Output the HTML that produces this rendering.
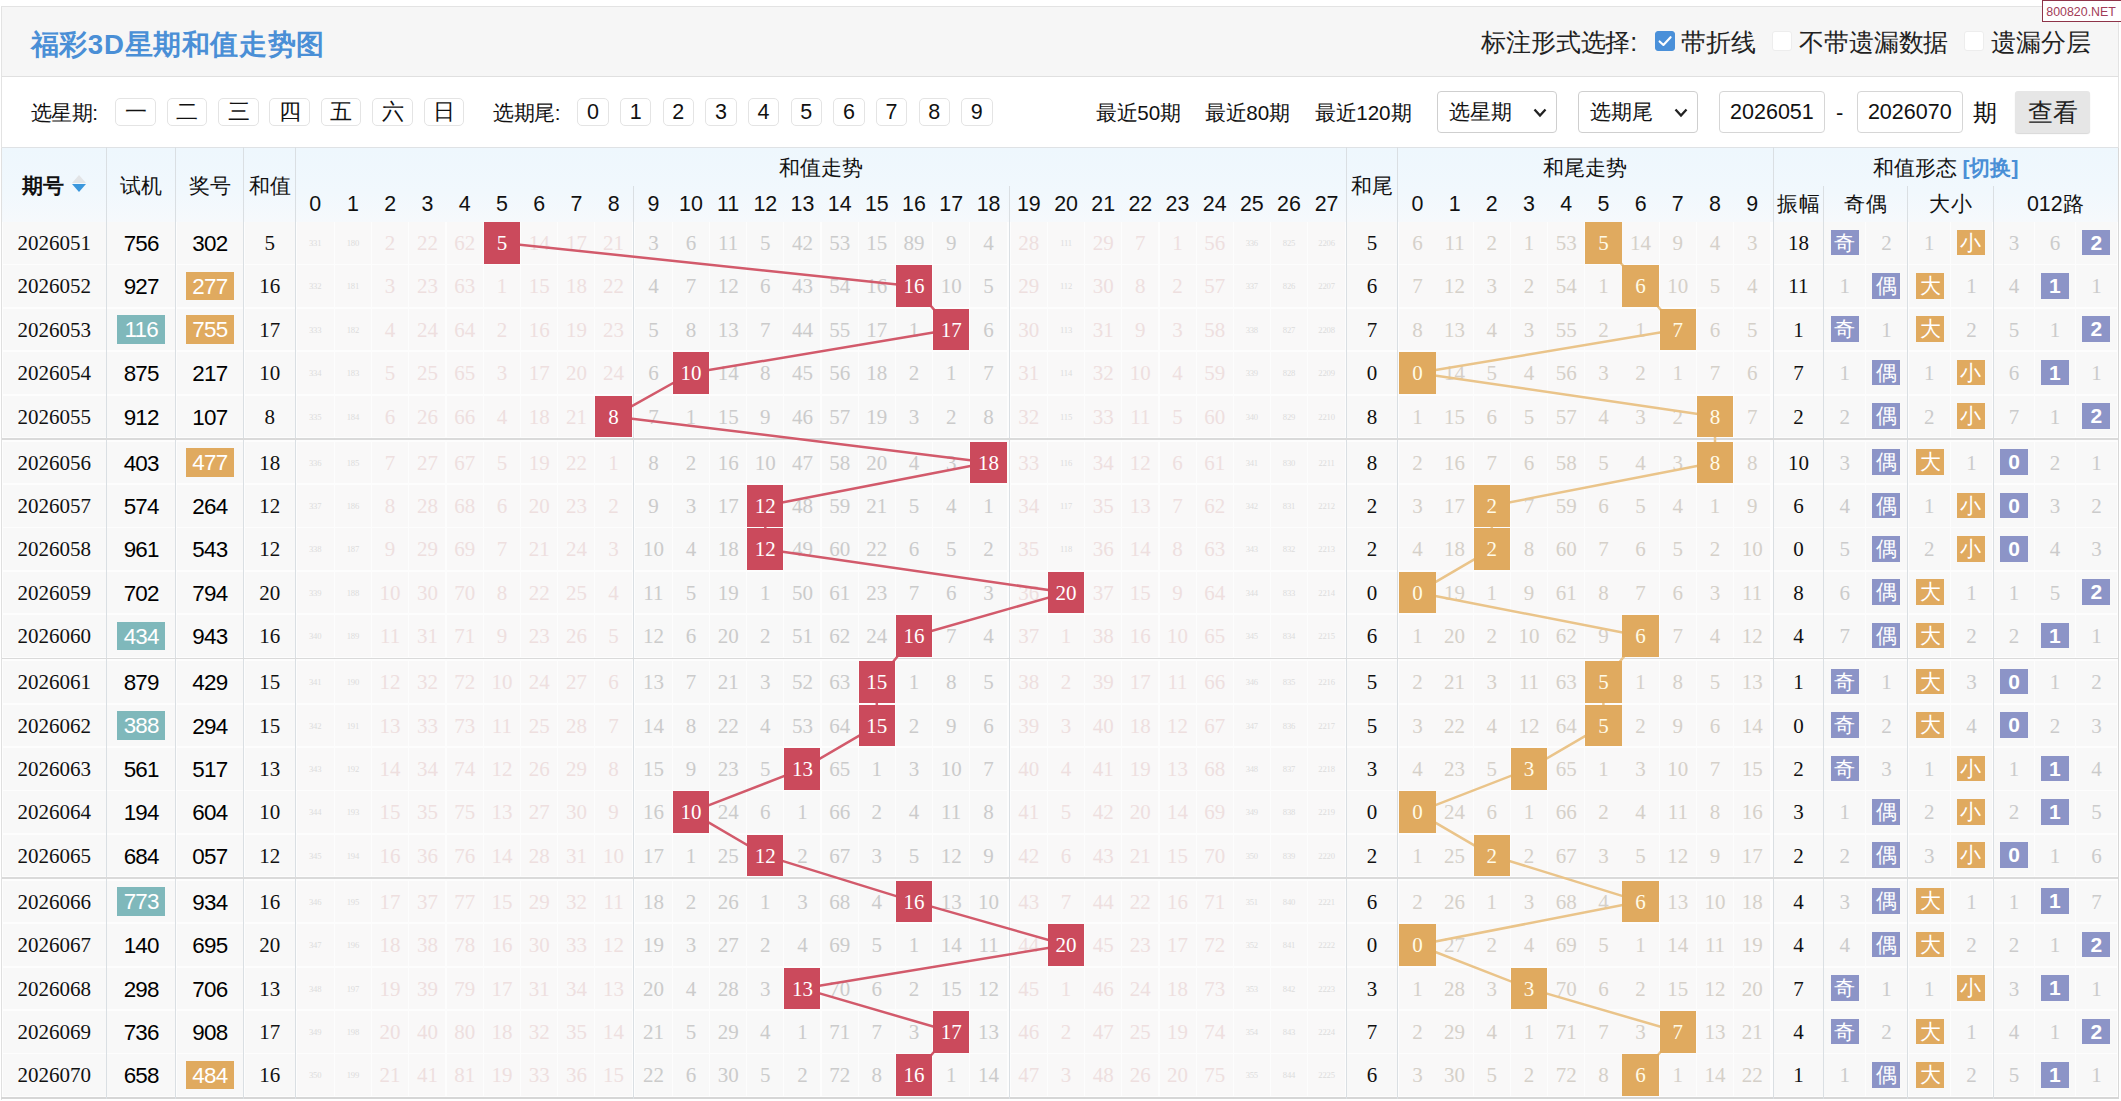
<!DOCTYPE html>
<html lang="zh">
<head>
<meta charset="utf-8">
<title>福彩3D星期和值走势图</title>
<style>
*{box-sizing:border-box;margin:0;padding:0}
html,body{width:2121px;height:1101px;background:#fff;overflow:hidden}
body{font-family:"Liberation Sans",sans-serif;color:#000;position:relative}
#page{position:absolute;left:0;top:0;width:2121px;height:1101px;overflow:hidden}
.z{display:inline-block;width:1em;text-align:center;font-style:normal}
#title .z{width:1.036em}
#titlebar{position:absolute;left:1px;top:6px;width:2118px;height:71px;background:#f6f6f6;border:1.3px solid #e3e3e3;border-bottom:1.3px solid #e0e0e0}
#title{position:absolute;left:30.5px;top:24.6px;font-size:27.6px;line-height:40px;font-weight:bold;color:#4a8fd6;white-space:nowrap;letter-spacing:0.9px}
#opts{position:absolute;top:21.4px;left:0;height:42px;font-size:24.9px;line-height:42px;color:#222;white-space:nowrap}
#opts span{position:absolute;top:0}
.cb{position:absolute;top:31px;width:20px;height:20px;border-radius:3px;background:#fff;border:1px solid #ededed}
.cb.on{background:#4a90d9;border-color:#4a90d9}
#wm{position:absolute;left:2041.6px;top:0;width:80px;height:21.8px;border:1.6px solid #8e3449;background:#fff;color:#a23c58;font-size:12.4px;line-height:22.6px;text-align:center;white-space:nowrap;padding-right:1px}
#filter{position:absolute;left:1px;top:77px;width:2118px;height:71px;background:#fff;border-left:1.3px solid #e3e3e3;border-right:1.3px solid #e3e3e3}
.ft{position:absolute;top:96.8px;height:32px;line-height:32px;font-size:20.6px;color:#111;white-space:nowrap}
.fb{position:absolute;top:98.3px;height:27.3px;border:1.2px solid #e4e4e4;border-radius:5px;background:#fff;text-align:center;font-size:21.5px;line-height:26px;color:#111}
.sel{position:absolute;top:91.4px;height:41.2px;width:119.5px;border:1.3px solid #cfcfcf;border-radius:4px;background:#fff;font-size:21px;line-height:39px;padding-left:11px;color:#111;white-space:nowrap}
.sel svg{position:absolute;right:8px;top:15px}
.inp{position:absolute;top:91.4px;height:41.2px;width:105.5px;border:1.3px solid #d6d6d6;border-radius:4px;background:#fff;font-size:21.5px;line-height:40.5px;text-align:center;color:#111}
#btn{position:absolute;left:2015px;top:91.4px;width:75px;height:41.2px;background:#e6e6e6;border-radius:3px;font-size:24.5px;line-height:44.5px;text-align:center;color:#222;box-shadow:0 1px 1px #d8d8d8}
#chart{position:absolute;left:0;top:0;width:2121px;height:1101px}
#hbg{position:absolute;left:2px;top:147.2px;width:2116px;height:75px;background:linear-gradient(#eef7fd 0%,#f1f8fd 60%,#f6f9fc 100%);border-top:1.3px solid #dfe2e5}
#bbg{position:absolute;left:2px;top:221px;width:2116px;height:878px;background:#fdfdfd}
#hd{position:absolute;left:0;top:148px;width:2121px;height:74px}
.h{position:absolute;text-align:center;font-size:21px;color:#111;white-space:nowrap}
.hn{top:36px;height:38px;line-height:40px;font-size:21.4px}
.hb b{font-size:20.8px}
.sw{color:#4a8fd6}
.sort{display:inline-block;position:relative;width:14px;height:18px;margin-left:8.5px;vertical-align:0.5px}
.sort i{position:absolute;left:0;width:0;height:0;border-left:7.5px solid transparent;border-right:7.5px solid transparent}
.sort .up{top:0;border-bottom:8px solid #e2e4e6}
.sort .dn{top:9.5px;border-top:8px solid #3b97dc}
.row{position:absolute;left:0;width:2121px;height:41.8px}
.c{position:absolute;top:0;height:41.8px;line-height:43.2px;text-align:center;background:#f8f8f8;font-family:"Liberation Serif",serif;font-size:21px;white-space:nowrap;overflow:hidden}
.cp{color:#111}
.n{font-family:"Liberation Sans",sans-serif;font-size:22.4px;color:#000;letter-spacing:-0.8px;line-height:43.8px}
.k{color:#111}
.zp{color:#eedfdf;background:#f9f8f8}
.zg{color:#cbcbcb}
.zt{color:#d5d0c9;background:#f9f8f8}
.tiny{font-size:8.6px;color:#dcdcdc;letter-spacing:-0.2px}
.hr{background:#cb4a5c;color:#fff;z-index:3}
.ho{background:#e0aa5f;color:#fffbe8;z-index:3}
.bd{position:absolute;left:50%;margin-left:-24px;top:6.7px;width:48px;height:28.4px;line-height:30.4px;color:#fff}
.bt{background:#7fb8bb}
.ba{background:#e0aa5f}
.sq{position:absolute;left:50%;margin-left:-14px;top:7.8px;width:28px;height:25.6px;line-height:26.5px;color:#fff;font-family:"Liberation Sans",sans-serif;font-size:21px}
.sb{background:#8c94c7}
.sq.d{font-weight:bold;font-size:21px}
.b0 .sq{margin-left:-13px}
.b1 .sq{margin-left:-15px}
.so{background:#e0aa5f}
.vl{position:absolute;width:1px;background:#dadfe3;z-index:1}
.gl{position:absolute;left:2px;width:2116px;height:1.6px;background:#dadada;z-index:1}
#lines{position:absolute;left:0;top:0;z-index:2;pointer-events:none}
#bl{position:absolute;left:1px;top:148px;width:1.3px;height:952px;background:#e0e0e0}
#br{position:absolute;left:2117.6px;top:148px;width:1.4px;height:951px;background:#d8d8d8}
#bb{position:absolute;left:1px;top:1097.3px;width:2118px;height:1.7px;background:#d6d6d6}
.cp{left:2.60px;width:103.30px}
.ct{left:107.30px;width:67.70px}
.ca{left:176.50px;width:66.70px}
.cs{left:244.60px;width:50.40px}
.s0{left:296.60px;width:37.00px}
.s1{left:334.86px;width:36.00px}
.s2{left:372.12px;width:36.00px}
.s3{left:409.38px;width:36.00px}
.s4{left:446.64px;width:36.00px}
.s5{left:483.90px;width:36.00px}
.s6{left:521.16px;width:36.00px}
.s7{left:558.42px;width:36.00px}
.s8{left:595.20px;width:36.80px}
.s9{left:635.20px;width:36.60px}
.s10{left:672.97px;width:36.00px}
.s11{left:710.14px;width:36.00px}
.s12{left:747.31px;width:36.00px}
.s13{left:784.48px;width:36.00px}
.s14{left:821.65px;width:36.00px}
.s15{left:858.82px;width:36.00px}
.s16{left:895.99px;width:36.00px}
.s17{left:933.16px;width:36.00px}
.s18{left:970.20px;width:36.70px}
.s19{left:1010.80px;width:36.10px}
.s20{left:1048.05px;width:36.00px}
.s21{left:1085.20px;width:36.00px}
.s22{left:1122.35px;width:36.00px}
.s23{left:1159.50px;width:36.00px}
.s24{left:1196.65px;width:36.00px}
.s25{left:1233.80px;width:36.00px}
.s26{left:1270.95px;width:36.00px}
.s27{left:1308.10px;width:36.90px}
.cw{left:1347.30px;width:49.40px}
.t0{left:1399.20px;width:36.40px}
.t1{left:1436.40px;width:36.40px}
.t2{left:1473.60px;width:36.40px}
.t3{left:1510.80px;width:36.40px}
.t4{left:1548.00px;width:36.40px}
.t5{left:1585.20px;width:36.40px}
.t6{left:1622.40px;width:36.40px}
.t7{left:1659.60px;width:36.40px}
.t8{left:1696.80px;width:36.40px}
.t9{left:1734.00px;width:36.40px}
.cm{left:1774.20px;width:48.40px}
.o0{left:1824.40px;width:40.60px}
.o1{left:1866.20px;width:40.60px}
.b0{left:1908.90px;width:40.80px}
.b1{left:1950.90px;width:41.30px}
.r0{left:1994.40px;width:39.30px}
.r1{left:2034.90px;width:40.10px}
.r2{left:2076.20px;width:40.40px}
</style>
</head>
<body>
<div id="page">
<div id="titlebar"></div>
<div id="title"><i class="z">福</i><i class="z">彩</i>3D<i class="z">星</i><i class="z">期</i><i class="z">和</i><i class="z">值</i><i class="z">走</i><i class="z">势</i><i class="z">图</i></div>
<div id="opts">
<span style="left:1481px"><i class="z">标</i><i class="z">注</i><i class="z">形</i><i class="z">式</i><i class="z">选</i><i class="z">择</i>:</span>
<span style="left:1681px"><i class="z">带</i><i class="z">折</i><i class="z">线</i></span>
<span style="left:1799px"><i class="z">不</i><i class="z">带</i><i class="z">遗</i><i class="z">漏</i><i class="z">数</i><i class="z">据</i></span>
<span style="left:1991px"><i class="z">遗</i><i class="z">漏</i><i class="z">分</i><i class="z">层</i></span>
</div>
<div class="cb on" style="left:1654.6px"><svg width="18" height="18" viewBox="0 0 18 18" style="position:absolute;left:0;top:0"><path d="M3.6 9.4 L7.4 13 L14.6 5.2" fill="none" stroke="#fff" stroke-width="2.1" stroke-linecap="round" stroke-linejoin="round"/></svg></div>
<div class="cb" style="left:1772.4px"></div>
<div class="cb" style="left:1964px"></div>
<div id="wm">800820.NET</div>
<div id="filter"></div>
<div class="ft" style="left:30.5px"><i class="z">选</i><i class="z">星</i><i class="z">期</i>:</div>
<div class="fb" style="left:115.2px;width:40.6px"><i class="z">一</i></div>
<div class="fb" style="left:166.6px;width:40.6px"><i class="z">二</i></div>
<div class="fb" style="left:218px;width:40.6px"><i class="z">三</i></div>
<div class="fb" style="left:269.4px;width:40.6px"><i class="z">四</i></div>
<div class="fb" style="left:320.8px;width:40.6px"><i class="z">五</i></div>
<div class="fb" style="left:372.2px;width:40.6px"><i class="z">六</i></div>
<div class="fb" style="left:423.6px;width:40.6px"><i class="z">日</i></div>
<div class="ft" style="left:493px"><i class="z">选</i><i class="z">期</i><i class="z">尾</i>:</div>
<div class="fb" style="left:577.3px;width:31.4px">0</div>
<div class="fb" style="left:619.95px;width:31.4px">1</div>
<div class="fb" style="left:662.6px;width:31.4px">2</div>
<div class="fb" style="left:705.25px;width:31.4px">3</div>
<div class="fb" style="left:747.9px;width:31.4px">4</div>
<div class="fb" style="left:790.55px;width:31.4px">5</div>
<div class="fb" style="left:833.2px;width:31.4px">6</div>
<div class="fb" style="left:875.85px;width:31.4px">7</div>
<div class="fb" style="left:918.5px;width:31.4px">8</div>
<div class="fb" style="left:961.15px;width:31.4px">9</div>
<div class="ft" style="left:1096px"><i class="z">最</i><i class="z">近</i>50<i class="z">期</i></div>
<div class="ft" style="left:1205px"><i class="z">最</i><i class="z">近</i>80<i class="z">期</i></div>
<div class="ft" style="left:1315px"><i class="z">最</i><i class="z">近</i>120<i class="z">期</i></div>
<div class="sel" style="left:1437.4px"><i class="z">选</i><i class="z">星</i><i class="z">期</i><svg width="16" height="12" viewBox="0 0 16 12"><path d="M2.5 2.5 L8 8.5 L13.5 2.5" fill="none" stroke="#222" stroke-width="2.3"/></svg></div>
<div class="sel" style="left:1578px"><i class="z">选</i><i class="z">期</i><i class="z">尾</i><svg width="16" height="12" viewBox="0 0 16 12"><path d="M2.5 2.5 L8 8.5 L13.5 2.5" fill="none" stroke="#222" stroke-width="2.3"/></svg></div>
<div class="inp" style="left:1719.2px">2026051</div>
<div class="ft" style="left:1836px;font-size:22px">-</div>
<div class="inp" style="left:1857px">2026070</div>
<div class="ft" style="left:1973px;font-size:24.4px"><i class="z">期</i></div>
<div id="btn"><i class="z">查</i><i class="z">看</i></div>
<div id="chart">
<div id="bbg"></div>
<div id="hbg"></div>
<div id="hd">
<div class="h cp hb" style="top:0;height:74px;line-height:76px"><b><i class="z">期</i><i class="z">号</i></b><span class="sort"><i class="up"></i><i class="dn"></i></span></div>
<div class="h ct" style="top:0;height:74px;line-height:76px"><i class="z">试</i><i class="z">机</i></div>
<div class="h ca" style="top:0;height:74px;line-height:76px"><i class="z">奖</i><i class="z">号</i></div>
<div class="h cs" style="top:0;height:74px;line-height:76px"><i class="z">和</i><i class="z">值</i></div>
<div class="h" style="left:296px;width:1050px;top:0;height:38px;line-height:40px"><i class="z">和</i><i class="z">值</i><i class="z">走</i><i class="z">势</i></div>
<div class="h s0 hn">0</div>
<div class="h s1 hn">1</div>
<div class="h s2 hn">2</div>
<div class="h s3 hn">3</div>
<div class="h s4 hn">4</div>
<div class="h s5 hn">5</div>
<div class="h s6 hn">6</div>
<div class="h s7 hn">7</div>
<div class="h s8 hn">8</div>
<div class="h s9 hn">9</div>
<div class="h s10 hn">10</div>
<div class="h s11 hn">11</div>
<div class="h s12 hn">12</div>
<div class="h s13 hn">13</div>
<div class="h s14 hn">14</div>
<div class="h s15 hn">15</div>
<div class="h s16 hn">16</div>
<div class="h s17 hn">17</div>
<div class="h s18 hn">18</div>
<div class="h s19 hn">19</div>
<div class="h s20 hn">20</div>
<div class="h s21 hn">21</div>
<div class="h s22 hn">22</div>
<div class="h s23 hn">23</div>
<div class="h s24 hn">24</div>
<div class="h s25 hn">25</div>
<div class="h s26 hn">26</div>
<div class="h s27 hn">27</div>
<div class="h cw" style="top:0;height:74px;line-height:76px"><i class="z">和</i><i class="z">尾</i></div>
<div class="h" style="left:1398px;width:374px;top:0;height:38px;line-height:40px"><i class="z">和</i><i class="z">尾</i><i class="z">走</i><i class="z">势</i></div>
<div class="h t0 hn">0</div>
<div class="h t1 hn">1</div>
<div class="h t2 hn">2</div>
<div class="h t3 hn">3</div>
<div class="h t4 hn">4</div>
<div class="h t5 hn">5</div>
<div class="h t6 hn">6</div>
<div class="h t7 hn">7</div>
<div class="h t8 hn">8</div>
<div class="h t9 hn">9</div>
<div class="h" style="left:1774px;width:343px;top:0;height:38px;line-height:40px"><i class="z">和</i><i class="z">值</i><i class="z">形</i><i class="z">态</i> <b class="sw">[<i class="z">切</i><i class="z">换</i>]</b></div>
<div class="h cm hn"><i class="z">振</i><i class="z">幅</i></div>
<div class="h hn" style="left:1824.4px;width:82.4px"><i class="z">奇</i><i class="z">偶</i></div>
<div class="h hn" style="left:1908.9px;width:83.3px"><i class="z">大</i><i class="z">小</i></div>
<div class="h hn" style="left:1994.4px;width:122.2px">012<i class="z">路</i></div>
</div>
<div class="row" style="top:221.9px"><div class="c cp">2026051</div><div class="c ct n">756</div><div class="c ca n">302</div><div class="c cs k">5</div><div class="c s0 zp tiny">331</div><div class="c s1 zp tiny">180</div><div class="c s2 zp">2</div><div class="c s3 zp">22</div><div class="c s4 zp">62</div><div class="c s5 hr">5</div><div class="c s6 zp">14</div><div class="c s7 zp">17</div><div class="c s8 zp">21</div><div class="c s9 zg">3</div><div class="c s10 zg">6</div><div class="c s11 zg">11</div><div class="c s12 zg">5</div><div class="c s13 zg">42</div><div class="c s14 zg">53</div><div class="c s15 zg">15</div><div class="c s16 zg">89</div><div class="c s17 zg">9</div><div class="c s18 zg">4</div><div class="c s19 zp">28</div><div class="c s20 zp tiny">111</div><div class="c s21 zp">29</div><div class="c s22 zp">7</div><div class="c s23 zp">1</div><div class="c s24 zp">56</div><div class="c s25 zp tiny">336</div><div class="c s26 zp tiny">825</div><div class="c s27 zp tiny">2206</div><div class="c cw k">5</div><div class="c t0 zt">6</div><div class="c t1 zt">11</div><div class="c t2 zt">2</div><div class="c t3 zt">1</div><div class="c t4 zt">53</div><div class="c t5 ho">5</div><div class="c t6 zt">14</div><div class="c t7 zt">9</div><div class="c t8 zt">4</div><div class="c t9 zt">3</div><div class="c cm k">18</div><div class="c o0"><span class="sq sb"><i class="z">奇</i></span></div><div class="c o1 zg">2</div><div class="c b0 zg">1</div><div class="c b1"><span class="sq so"><i class="z">小</i></span></div><div class="c r0 zg">3</div><div class="c r1 zg">6</div><div class="c r2"><span class="sq sb d">2</span></div></div>
<div class="row" style="top:265.3px"><div class="c cp">2026052</div><div class="c ct n">927</div><div class="c ca n"><span class="bd ba">277</span></div><div class="c cs k">16</div><div class="c s0 zp tiny">332</div><div class="c s1 zp tiny">181</div><div class="c s2 zp">3</div><div class="c s3 zp">23</div><div class="c s4 zp">63</div><div class="c s5 zp">1</div><div class="c s6 zp">15</div><div class="c s7 zp">18</div><div class="c s8 zp">22</div><div class="c s9 zg">4</div><div class="c s10 zg">7</div><div class="c s11 zg">12</div><div class="c s12 zg">6</div><div class="c s13 zg">43</div><div class="c s14 zg">54</div><div class="c s15 zg">16</div><div class="c s16 hr">16</div><div class="c s17 zg">10</div><div class="c s18 zg">5</div><div class="c s19 zp">29</div><div class="c s20 zp tiny">112</div><div class="c s21 zp">30</div><div class="c s22 zp">8</div><div class="c s23 zp">2</div><div class="c s24 zp">57</div><div class="c s25 zp tiny">337</div><div class="c s26 zp tiny">826</div><div class="c s27 zp tiny">2207</div><div class="c cw k">6</div><div class="c t0 zt">7</div><div class="c t1 zt">12</div><div class="c t2 zt">3</div><div class="c t3 zt">2</div><div class="c t4 zt">54</div><div class="c t5 zt">1</div><div class="c t6 ho">6</div><div class="c t7 zt">10</div><div class="c t8 zt">5</div><div class="c t9 zt">4</div><div class="c cm k">11</div><div class="c o0 zg">1</div><div class="c o1"><span class="sq sb"><i class="z">偶</i></span></div><div class="c b0"><span class="sq so"><i class="z">大</i></span></div><div class="c b1 zg">1</div><div class="c r0 zg">4</div><div class="c r1"><span class="sq sb d">1</span></div><div class="c r2 zg">1</div></div>
<div class="row" style="top:308.7px"><div class="c cp">2026053</div><div class="c ct n"><span class="bd bt">116</span></div><div class="c ca n"><span class="bd ba">755</span></div><div class="c cs k">17</div><div class="c s0 zp tiny">333</div><div class="c s1 zp tiny">182</div><div class="c s2 zp">4</div><div class="c s3 zp">24</div><div class="c s4 zp">64</div><div class="c s5 zp">2</div><div class="c s6 zp">16</div><div class="c s7 zp">19</div><div class="c s8 zp">23</div><div class="c s9 zg">5</div><div class="c s10 zg">8</div><div class="c s11 zg">13</div><div class="c s12 zg">7</div><div class="c s13 zg">44</div><div class="c s14 zg">55</div><div class="c s15 zg">17</div><div class="c s16 zg">1</div><div class="c s17 hr">17</div><div class="c s18 zg">6</div><div class="c s19 zp">30</div><div class="c s20 zp tiny">113</div><div class="c s21 zp">31</div><div class="c s22 zp">9</div><div class="c s23 zp">3</div><div class="c s24 zp">58</div><div class="c s25 zp tiny">338</div><div class="c s26 zp tiny">827</div><div class="c s27 zp tiny">2208</div><div class="c cw k">7</div><div class="c t0 zt">8</div><div class="c t1 zt">13</div><div class="c t2 zt">4</div><div class="c t3 zt">3</div><div class="c t4 zt">55</div><div class="c t5 zt">2</div><div class="c t6 zt">1</div><div class="c t7 ho">7</div><div class="c t8 zt">6</div><div class="c t9 zt">5</div><div class="c cm k">1</div><div class="c o0"><span class="sq sb"><i class="z">奇</i></span></div><div class="c o1 zg">1</div><div class="c b0"><span class="sq so"><i class="z">大</i></span></div><div class="c b1 zg">2</div><div class="c r0 zg">5</div><div class="c r1 zg">1</div><div class="c r2"><span class="sq sb d">2</span></div></div>
<div class="row" style="top:352.1px"><div class="c cp">2026054</div><div class="c ct n">875</div><div class="c ca n">217</div><div class="c cs k">10</div><div class="c s0 zp tiny">334</div><div class="c s1 zp tiny">183</div><div class="c s2 zp">5</div><div class="c s3 zp">25</div><div class="c s4 zp">65</div><div class="c s5 zp">3</div><div class="c s6 zp">17</div><div class="c s7 zp">20</div><div class="c s8 zp">24</div><div class="c s9 zg">6</div><div class="c s10 hr">10</div><div class="c s11 zg">14</div><div class="c s12 zg">8</div><div class="c s13 zg">45</div><div class="c s14 zg">56</div><div class="c s15 zg">18</div><div class="c s16 zg">2</div><div class="c s17 zg">1</div><div class="c s18 zg">7</div><div class="c s19 zp">31</div><div class="c s20 zp tiny">114</div><div class="c s21 zp">32</div><div class="c s22 zp">10</div><div class="c s23 zp">4</div><div class="c s24 zp">59</div><div class="c s25 zp tiny">339</div><div class="c s26 zp tiny">828</div><div class="c s27 zp tiny">2209</div><div class="c cw k">0</div><div class="c t0 ho">0</div><div class="c t1 zt">14</div><div class="c t2 zt">5</div><div class="c t3 zt">4</div><div class="c t4 zt">56</div><div class="c t5 zt">3</div><div class="c t6 zt">2</div><div class="c t7 zt">1</div><div class="c t8 zt">7</div><div class="c t9 zt">6</div><div class="c cm k">7</div><div class="c o0 zg">1</div><div class="c o1"><span class="sq sb"><i class="z">偶</i></span></div><div class="c b0 zg">1</div><div class="c b1"><span class="sq so"><i class="z">小</i></span></div><div class="c r0 zg">6</div><div class="c r1"><span class="sq sb d">1</span></div><div class="c r2 zg">1</div></div>
<div class="row" style="top:395.5px"><div class="c cp">2026055</div><div class="c ct n">912</div><div class="c ca n">107</div><div class="c cs k">8</div><div class="c s0 zp tiny">335</div><div class="c s1 zp tiny">184</div><div class="c s2 zp">6</div><div class="c s3 zp">26</div><div class="c s4 zp">66</div><div class="c s5 zp">4</div><div class="c s6 zp">18</div><div class="c s7 zp">21</div><div class="c s8 hr">8</div><div class="c s9 zg">7</div><div class="c s10 zg">1</div><div class="c s11 zg">15</div><div class="c s12 zg">9</div><div class="c s13 zg">46</div><div class="c s14 zg">57</div><div class="c s15 zg">19</div><div class="c s16 zg">3</div><div class="c s17 zg">2</div><div class="c s18 zg">8</div><div class="c s19 zp">32</div><div class="c s20 zp tiny">115</div><div class="c s21 zp">33</div><div class="c s22 zp">11</div><div class="c s23 zp">5</div><div class="c s24 zp">60</div><div class="c s25 zp tiny">340</div><div class="c s26 zp tiny">829</div><div class="c s27 zp tiny">2210</div><div class="c cw k">8</div><div class="c t0 zt">1</div><div class="c t1 zt">15</div><div class="c t2 zt">6</div><div class="c t3 zt">5</div><div class="c t4 zt">57</div><div class="c t5 zt">4</div><div class="c t6 zt">3</div><div class="c t7 zt">2</div><div class="c t8 ho">8</div><div class="c t9 zt">7</div><div class="c cm k">2</div><div class="c o0 zg">2</div><div class="c o1"><span class="sq sb"><i class="z">偶</i></span></div><div class="c b0 zg">2</div><div class="c b1"><span class="sq so"><i class="z">小</i></span></div><div class="c r0 zg">7</div><div class="c r1 zg">1</div><div class="c r2"><span class="sq sb d">2</span></div></div>
<div class="row" style="top:441.5px"><div class="c cp">2026056</div><div class="c ct n">403</div><div class="c ca n"><span class="bd ba">477</span></div><div class="c cs k">18</div><div class="c s0 zp tiny">336</div><div class="c s1 zp tiny">185</div><div class="c s2 zp">7</div><div class="c s3 zp">27</div><div class="c s4 zp">67</div><div class="c s5 zp">5</div><div class="c s6 zp">19</div><div class="c s7 zp">22</div><div class="c s8 zp">1</div><div class="c s9 zg">8</div><div class="c s10 zg">2</div><div class="c s11 zg">16</div><div class="c s12 zg">10</div><div class="c s13 zg">47</div><div class="c s14 zg">58</div><div class="c s15 zg">20</div><div class="c s16 zg">4</div><div class="c s17 zg">3</div><div class="c s18 hr">18</div><div class="c s19 zp">33</div><div class="c s20 zp tiny">116</div><div class="c s21 zp">34</div><div class="c s22 zp">12</div><div class="c s23 zp">6</div><div class="c s24 zp">61</div><div class="c s25 zp tiny">341</div><div class="c s26 zp tiny">830</div><div class="c s27 zp tiny">2211</div><div class="c cw k">8</div><div class="c t0 zt">2</div><div class="c t1 zt">16</div><div class="c t2 zt">7</div><div class="c t3 zt">6</div><div class="c t4 zt">58</div><div class="c t5 zt">5</div><div class="c t6 zt">4</div><div class="c t7 zt">3</div><div class="c t8 ho">8</div><div class="c t9 zt">8</div><div class="c cm k">10</div><div class="c o0 zg">3</div><div class="c o1"><span class="sq sb"><i class="z">偶</i></span></div><div class="c b0"><span class="sq so"><i class="z">大</i></span></div><div class="c b1 zg">1</div><div class="c r0"><span class="sq sb d">0</span></div><div class="c r1 zg">2</div><div class="c r2 zg">1</div></div>
<div class="row" style="top:484.9px"><div class="c cp">2026057</div><div class="c ct n">574</div><div class="c ca n">264</div><div class="c cs k">12</div><div class="c s0 zp tiny">337</div><div class="c s1 zp tiny">186</div><div class="c s2 zp">8</div><div class="c s3 zp">28</div><div class="c s4 zp">68</div><div class="c s5 zp">6</div><div class="c s6 zp">20</div><div class="c s7 zp">23</div><div class="c s8 zp">2</div><div class="c s9 zg">9</div><div class="c s10 zg">3</div><div class="c s11 zg">17</div><div class="c s12 hr">12</div><div class="c s13 zg">48</div><div class="c s14 zg">59</div><div class="c s15 zg">21</div><div class="c s16 zg">5</div><div class="c s17 zg">4</div><div class="c s18 zg">1</div><div class="c s19 zp">34</div><div class="c s20 zp tiny">117</div><div class="c s21 zp">35</div><div class="c s22 zp">13</div><div class="c s23 zp">7</div><div class="c s24 zp">62</div><div class="c s25 zp tiny">342</div><div class="c s26 zp tiny">831</div><div class="c s27 zp tiny">2212</div><div class="c cw k">2</div><div class="c t0 zt">3</div><div class="c t1 zt">17</div><div class="c t2 ho">2</div><div class="c t3 zt">7</div><div class="c t4 zt">59</div><div class="c t5 zt">6</div><div class="c t6 zt">5</div><div class="c t7 zt">4</div><div class="c t8 zt">1</div><div class="c t9 zt">9</div><div class="c cm k">6</div><div class="c o0 zg">4</div><div class="c o1"><span class="sq sb"><i class="z">偶</i></span></div><div class="c b0 zg">1</div><div class="c b1"><span class="sq so"><i class="z">小</i></span></div><div class="c r0"><span class="sq sb d">0</span></div><div class="c r1 zg">3</div><div class="c r2 zg">2</div></div>
<div class="row" style="top:528.3px"><div class="c cp">2026058</div><div class="c ct n">961</div><div class="c ca n">543</div><div class="c cs k">12</div><div class="c s0 zp tiny">338</div><div class="c s1 zp tiny">187</div><div class="c s2 zp">9</div><div class="c s3 zp">29</div><div class="c s4 zp">69</div><div class="c s5 zp">7</div><div class="c s6 zp">21</div><div class="c s7 zp">24</div><div class="c s8 zp">3</div><div class="c s9 zg">10</div><div class="c s10 zg">4</div><div class="c s11 zg">18</div><div class="c s12 hr">12</div><div class="c s13 zg">49</div><div class="c s14 zg">60</div><div class="c s15 zg">22</div><div class="c s16 zg">6</div><div class="c s17 zg">5</div><div class="c s18 zg">2</div><div class="c s19 zp">35</div><div class="c s20 zp tiny">118</div><div class="c s21 zp">36</div><div class="c s22 zp">14</div><div class="c s23 zp">8</div><div class="c s24 zp">63</div><div class="c s25 zp tiny">343</div><div class="c s26 zp tiny">832</div><div class="c s27 zp tiny">2213</div><div class="c cw k">2</div><div class="c t0 zt">4</div><div class="c t1 zt">18</div><div class="c t2 ho">2</div><div class="c t3 zt">8</div><div class="c t4 zt">60</div><div class="c t5 zt">7</div><div class="c t6 zt">6</div><div class="c t7 zt">5</div><div class="c t8 zt">2</div><div class="c t9 zt">10</div><div class="c cm k">0</div><div class="c o0 zg">5</div><div class="c o1"><span class="sq sb"><i class="z">偶</i></span></div><div class="c b0 zg">2</div><div class="c b1"><span class="sq so"><i class="z">小</i></span></div><div class="c r0"><span class="sq sb d">0</span></div><div class="c r1 zg">4</div><div class="c r2 zg">3</div></div>
<div class="row" style="top:571.7px"><div class="c cp">2026059</div><div class="c ct n">702</div><div class="c ca n">794</div><div class="c cs k">20</div><div class="c s0 zp tiny">339</div><div class="c s1 zp tiny">188</div><div class="c s2 zp">10</div><div class="c s3 zp">30</div><div class="c s4 zp">70</div><div class="c s5 zp">8</div><div class="c s6 zp">22</div><div class="c s7 zp">25</div><div class="c s8 zp">4</div><div class="c s9 zg">11</div><div class="c s10 zg">5</div><div class="c s11 zg">19</div><div class="c s12 zg">1</div><div class="c s13 zg">50</div><div class="c s14 zg">61</div><div class="c s15 zg">23</div><div class="c s16 zg">7</div><div class="c s17 zg">6</div><div class="c s18 zg">3</div><div class="c s19 zp">36</div><div class="c s20 hr">20</div><div class="c s21 zp">37</div><div class="c s22 zp">15</div><div class="c s23 zp">9</div><div class="c s24 zp">64</div><div class="c s25 zp tiny">344</div><div class="c s26 zp tiny">833</div><div class="c s27 zp tiny">2214</div><div class="c cw k">0</div><div class="c t0 ho">0</div><div class="c t1 zt">19</div><div class="c t2 zt">1</div><div class="c t3 zt">9</div><div class="c t4 zt">61</div><div class="c t5 zt">8</div><div class="c t6 zt">7</div><div class="c t7 zt">6</div><div class="c t8 zt">3</div><div class="c t9 zt">11</div><div class="c cm k">8</div><div class="c o0 zg">6</div><div class="c o1"><span class="sq sb"><i class="z">偶</i></span></div><div class="c b0"><span class="sq so"><i class="z">大</i></span></div><div class="c b1 zg">1</div><div class="c r0 zg">1</div><div class="c r1 zg">5</div><div class="c r2"><span class="sq sb d">2</span></div></div>
<div class="row" style="top:615.1px"><div class="c cp">2026060</div><div class="c ct n"><span class="bd bt">434</span></div><div class="c ca n">943</div><div class="c cs k">16</div><div class="c s0 zp tiny">340</div><div class="c s1 zp tiny">189</div><div class="c s2 zp">11</div><div class="c s3 zp">31</div><div class="c s4 zp">71</div><div class="c s5 zp">9</div><div class="c s6 zp">23</div><div class="c s7 zp">26</div><div class="c s8 zp">5</div><div class="c s9 zg">12</div><div class="c s10 zg">6</div><div class="c s11 zg">20</div><div class="c s12 zg">2</div><div class="c s13 zg">51</div><div class="c s14 zg">62</div><div class="c s15 zg">24</div><div class="c s16 hr">16</div><div class="c s17 zg">7</div><div class="c s18 zg">4</div><div class="c s19 zp">37</div><div class="c s20 zp">1</div><div class="c s21 zp">38</div><div class="c s22 zp">16</div><div class="c s23 zp">10</div><div class="c s24 zp">65</div><div class="c s25 zp tiny">345</div><div class="c s26 zp tiny">834</div><div class="c s27 zp tiny">2215</div><div class="c cw k">6</div><div class="c t0 zt">1</div><div class="c t1 zt">20</div><div class="c t2 zt">2</div><div class="c t3 zt">10</div><div class="c t4 zt">62</div><div class="c t5 zt">9</div><div class="c t6 ho">6</div><div class="c t7 zt">7</div><div class="c t8 zt">4</div><div class="c t9 zt">12</div><div class="c cm k">4</div><div class="c o0 zg">7</div><div class="c o1"><span class="sq sb"><i class="z">偶</i></span></div><div class="c b0"><span class="sq so"><i class="z">大</i></span></div><div class="c b1 zg">2</div><div class="c r0 zg">2</div><div class="c r1"><span class="sq sb d">1</span></div><div class="c r2 zg">1</div></div>
<div class="row" style="top:661.1px"><div class="c cp">2026061</div><div class="c ct n">879</div><div class="c ca n">429</div><div class="c cs k">15</div><div class="c s0 zp tiny">341</div><div class="c s1 zp tiny">190</div><div class="c s2 zp">12</div><div class="c s3 zp">32</div><div class="c s4 zp">72</div><div class="c s5 zp">10</div><div class="c s6 zp">24</div><div class="c s7 zp">27</div><div class="c s8 zp">6</div><div class="c s9 zg">13</div><div class="c s10 zg">7</div><div class="c s11 zg">21</div><div class="c s12 zg">3</div><div class="c s13 zg">52</div><div class="c s14 zg">63</div><div class="c s15 hr">15</div><div class="c s16 zg">1</div><div class="c s17 zg">8</div><div class="c s18 zg">5</div><div class="c s19 zp">38</div><div class="c s20 zp">2</div><div class="c s21 zp">39</div><div class="c s22 zp">17</div><div class="c s23 zp">11</div><div class="c s24 zp">66</div><div class="c s25 zp tiny">346</div><div class="c s26 zp tiny">835</div><div class="c s27 zp tiny">2216</div><div class="c cw k">5</div><div class="c t0 zt">2</div><div class="c t1 zt">21</div><div class="c t2 zt">3</div><div class="c t3 zt">11</div><div class="c t4 zt">63</div><div class="c t5 ho">5</div><div class="c t6 zt">1</div><div class="c t7 zt">8</div><div class="c t8 zt">5</div><div class="c t9 zt">13</div><div class="c cm k">1</div><div class="c o0"><span class="sq sb"><i class="z">奇</i></span></div><div class="c o1 zg">1</div><div class="c b0"><span class="sq so"><i class="z">大</i></span></div><div class="c b1 zg">3</div><div class="c r0"><span class="sq sb d">0</span></div><div class="c r1 zg">1</div><div class="c r2 zg">2</div></div>
<div class="row" style="top:704.5px"><div class="c cp">2026062</div><div class="c ct n"><span class="bd bt">388</span></div><div class="c ca n">294</div><div class="c cs k">15</div><div class="c s0 zp tiny">342</div><div class="c s1 zp tiny">191</div><div class="c s2 zp">13</div><div class="c s3 zp">33</div><div class="c s4 zp">73</div><div class="c s5 zp">11</div><div class="c s6 zp">25</div><div class="c s7 zp">28</div><div class="c s8 zp">7</div><div class="c s9 zg">14</div><div class="c s10 zg">8</div><div class="c s11 zg">22</div><div class="c s12 zg">4</div><div class="c s13 zg">53</div><div class="c s14 zg">64</div><div class="c s15 hr">15</div><div class="c s16 zg">2</div><div class="c s17 zg">9</div><div class="c s18 zg">6</div><div class="c s19 zp">39</div><div class="c s20 zp">3</div><div class="c s21 zp">40</div><div class="c s22 zp">18</div><div class="c s23 zp">12</div><div class="c s24 zp">67</div><div class="c s25 zp tiny">347</div><div class="c s26 zp tiny">836</div><div class="c s27 zp tiny">2217</div><div class="c cw k">5</div><div class="c t0 zt">3</div><div class="c t1 zt">22</div><div class="c t2 zt">4</div><div class="c t3 zt">12</div><div class="c t4 zt">64</div><div class="c t5 ho">5</div><div class="c t6 zt">2</div><div class="c t7 zt">9</div><div class="c t8 zt">6</div><div class="c t9 zt">14</div><div class="c cm k">0</div><div class="c o0"><span class="sq sb"><i class="z">奇</i></span></div><div class="c o1 zg">2</div><div class="c b0"><span class="sq so"><i class="z">大</i></span></div><div class="c b1 zg">4</div><div class="c r0"><span class="sq sb d">0</span></div><div class="c r1 zg">2</div><div class="c r2 zg">3</div></div>
<div class="row" style="top:747.9px"><div class="c cp">2026063</div><div class="c ct n">561</div><div class="c ca n">517</div><div class="c cs k">13</div><div class="c s0 zp tiny">343</div><div class="c s1 zp tiny">192</div><div class="c s2 zp">14</div><div class="c s3 zp">34</div><div class="c s4 zp">74</div><div class="c s5 zp">12</div><div class="c s6 zp">26</div><div class="c s7 zp">29</div><div class="c s8 zp">8</div><div class="c s9 zg">15</div><div class="c s10 zg">9</div><div class="c s11 zg">23</div><div class="c s12 zg">5</div><div class="c s13 hr">13</div><div class="c s14 zg">65</div><div class="c s15 zg">1</div><div class="c s16 zg">3</div><div class="c s17 zg">10</div><div class="c s18 zg">7</div><div class="c s19 zp">40</div><div class="c s20 zp">4</div><div class="c s21 zp">41</div><div class="c s22 zp">19</div><div class="c s23 zp">13</div><div class="c s24 zp">68</div><div class="c s25 zp tiny">348</div><div class="c s26 zp tiny">837</div><div class="c s27 zp tiny">2218</div><div class="c cw k">3</div><div class="c t0 zt">4</div><div class="c t1 zt">23</div><div class="c t2 zt">5</div><div class="c t3 ho">3</div><div class="c t4 zt">65</div><div class="c t5 zt">1</div><div class="c t6 zt">3</div><div class="c t7 zt">10</div><div class="c t8 zt">7</div><div class="c t9 zt">15</div><div class="c cm k">2</div><div class="c o0"><span class="sq sb"><i class="z">奇</i></span></div><div class="c o1 zg">3</div><div class="c b0 zg">1</div><div class="c b1"><span class="sq so"><i class="z">小</i></span></div><div class="c r0 zg">1</div><div class="c r1"><span class="sq sb d">1</span></div><div class="c r2 zg">4</div></div>
<div class="row" style="top:791.3px"><div class="c cp">2026064</div><div class="c ct n">194</div><div class="c ca n">604</div><div class="c cs k">10</div><div class="c s0 zp tiny">344</div><div class="c s1 zp tiny">193</div><div class="c s2 zp">15</div><div class="c s3 zp">35</div><div class="c s4 zp">75</div><div class="c s5 zp">13</div><div class="c s6 zp">27</div><div class="c s7 zp">30</div><div class="c s8 zp">9</div><div class="c s9 zg">16</div><div class="c s10 hr">10</div><div class="c s11 zg">24</div><div class="c s12 zg">6</div><div class="c s13 zg">1</div><div class="c s14 zg">66</div><div class="c s15 zg">2</div><div class="c s16 zg">4</div><div class="c s17 zg">11</div><div class="c s18 zg">8</div><div class="c s19 zp">41</div><div class="c s20 zp">5</div><div class="c s21 zp">42</div><div class="c s22 zp">20</div><div class="c s23 zp">14</div><div class="c s24 zp">69</div><div class="c s25 zp tiny">349</div><div class="c s26 zp tiny">838</div><div class="c s27 zp tiny">2219</div><div class="c cw k">0</div><div class="c t0 ho">0</div><div class="c t1 zt">24</div><div class="c t2 zt">6</div><div class="c t3 zt">1</div><div class="c t4 zt">66</div><div class="c t5 zt">2</div><div class="c t6 zt">4</div><div class="c t7 zt">11</div><div class="c t8 zt">8</div><div class="c t9 zt">16</div><div class="c cm k">3</div><div class="c o0 zg">1</div><div class="c o1"><span class="sq sb"><i class="z">偶</i></span></div><div class="c b0 zg">2</div><div class="c b1"><span class="sq so"><i class="z">小</i></span></div><div class="c r0 zg">2</div><div class="c r1"><span class="sq sb d">1</span></div><div class="c r2 zg">5</div></div>
<div class="row" style="top:834.7px"><div class="c cp">2026065</div><div class="c ct n">684</div><div class="c ca n">057</div><div class="c cs k">12</div><div class="c s0 zp tiny">345</div><div class="c s1 zp tiny">194</div><div class="c s2 zp">16</div><div class="c s3 zp">36</div><div class="c s4 zp">76</div><div class="c s5 zp">14</div><div class="c s6 zp">28</div><div class="c s7 zp">31</div><div class="c s8 zp">10</div><div class="c s9 zg">17</div><div class="c s10 zg">1</div><div class="c s11 zg">25</div><div class="c s12 hr">12</div><div class="c s13 zg">2</div><div class="c s14 zg">67</div><div class="c s15 zg">3</div><div class="c s16 zg">5</div><div class="c s17 zg">12</div><div class="c s18 zg">9</div><div class="c s19 zp">42</div><div class="c s20 zp">6</div><div class="c s21 zp">43</div><div class="c s22 zp">21</div><div class="c s23 zp">15</div><div class="c s24 zp">70</div><div class="c s25 zp tiny">350</div><div class="c s26 zp tiny">839</div><div class="c s27 zp tiny">2220</div><div class="c cw k">2</div><div class="c t0 zt">1</div><div class="c t1 zt">25</div><div class="c t2 ho">2</div><div class="c t3 zt">2</div><div class="c t4 zt">67</div><div class="c t5 zt">3</div><div class="c t6 zt">5</div><div class="c t7 zt">12</div><div class="c t8 zt">9</div><div class="c t9 zt">17</div><div class="c cm k">2</div><div class="c o0 zg">2</div><div class="c o1"><span class="sq sb"><i class="z">偶</i></span></div><div class="c b0 zg">3</div><div class="c b1"><span class="sq so"><i class="z">小</i></span></div><div class="c r0"><span class="sq sb d">0</span></div><div class="c r1 zg">1</div><div class="c r2 zg">6</div></div>
<div class="row" style="top:880.7px"><div class="c cp">2026066</div><div class="c ct n"><span class="bd bt">773</span></div><div class="c ca n">934</div><div class="c cs k">16</div><div class="c s0 zp tiny">346</div><div class="c s1 zp tiny">195</div><div class="c s2 zp">17</div><div class="c s3 zp">37</div><div class="c s4 zp">77</div><div class="c s5 zp">15</div><div class="c s6 zp">29</div><div class="c s7 zp">32</div><div class="c s8 zp">11</div><div class="c s9 zg">18</div><div class="c s10 zg">2</div><div class="c s11 zg">26</div><div class="c s12 zg">1</div><div class="c s13 zg">3</div><div class="c s14 zg">68</div><div class="c s15 zg">4</div><div class="c s16 hr">16</div><div class="c s17 zg">13</div><div class="c s18 zg">10</div><div class="c s19 zp">43</div><div class="c s20 zp">7</div><div class="c s21 zp">44</div><div class="c s22 zp">22</div><div class="c s23 zp">16</div><div class="c s24 zp">71</div><div class="c s25 zp tiny">351</div><div class="c s26 zp tiny">840</div><div class="c s27 zp tiny">2221</div><div class="c cw k">6</div><div class="c t0 zt">2</div><div class="c t1 zt">26</div><div class="c t2 zt">1</div><div class="c t3 zt">3</div><div class="c t4 zt">68</div><div class="c t5 zt">4</div><div class="c t6 ho">6</div><div class="c t7 zt">13</div><div class="c t8 zt">10</div><div class="c t9 zt">18</div><div class="c cm k">4</div><div class="c o0 zg">3</div><div class="c o1"><span class="sq sb"><i class="z">偶</i></span></div><div class="c b0"><span class="sq so"><i class="z">大</i></span></div><div class="c b1 zg">1</div><div class="c r0 zg">1</div><div class="c r1"><span class="sq sb d">1</span></div><div class="c r2 zg">7</div></div>
<div class="row" style="top:924.1px"><div class="c cp">2026067</div><div class="c ct n">140</div><div class="c ca n">695</div><div class="c cs k">20</div><div class="c s0 zp tiny">347</div><div class="c s1 zp tiny">196</div><div class="c s2 zp">18</div><div class="c s3 zp">38</div><div class="c s4 zp">78</div><div class="c s5 zp">16</div><div class="c s6 zp">30</div><div class="c s7 zp">33</div><div class="c s8 zp">12</div><div class="c s9 zg">19</div><div class="c s10 zg">3</div><div class="c s11 zg">27</div><div class="c s12 zg">2</div><div class="c s13 zg">4</div><div class="c s14 zg">69</div><div class="c s15 zg">5</div><div class="c s16 zg">1</div><div class="c s17 zg">14</div><div class="c s18 zg">11</div><div class="c s19 zp">44</div><div class="c s20 hr">20</div><div class="c s21 zp">45</div><div class="c s22 zp">23</div><div class="c s23 zp">17</div><div class="c s24 zp">72</div><div class="c s25 zp tiny">352</div><div class="c s26 zp tiny">841</div><div class="c s27 zp tiny">2222</div><div class="c cw k">0</div><div class="c t0 ho">0</div><div class="c t1 zt">27</div><div class="c t2 zt">2</div><div class="c t3 zt">4</div><div class="c t4 zt">69</div><div class="c t5 zt">5</div><div class="c t6 zt">1</div><div class="c t7 zt">14</div><div class="c t8 zt">11</div><div class="c t9 zt">19</div><div class="c cm k">4</div><div class="c o0 zg">4</div><div class="c o1"><span class="sq sb"><i class="z">偶</i></span></div><div class="c b0"><span class="sq so"><i class="z">大</i></span></div><div class="c b1 zg">2</div><div class="c r0 zg">2</div><div class="c r1 zg">1</div><div class="c r2"><span class="sq sb d">2</span></div></div>
<div class="row" style="top:967.5px"><div class="c cp">2026068</div><div class="c ct n">298</div><div class="c ca n">706</div><div class="c cs k">13</div><div class="c s0 zp tiny">348</div><div class="c s1 zp tiny">197</div><div class="c s2 zp">19</div><div class="c s3 zp">39</div><div class="c s4 zp">79</div><div class="c s5 zp">17</div><div class="c s6 zp">31</div><div class="c s7 zp">34</div><div class="c s8 zp">13</div><div class="c s9 zg">20</div><div class="c s10 zg">4</div><div class="c s11 zg">28</div><div class="c s12 zg">3</div><div class="c s13 hr">13</div><div class="c s14 zg">70</div><div class="c s15 zg">6</div><div class="c s16 zg">2</div><div class="c s17 zg">15</div><div class="c s18 zg">12</div><div class="c s19 zp">45</div><div class="c s20 zp">1</div><div class="c s21 zp">46</div><div class="c s22 zp">24</div><div class="c s23 zp">18</div><div class="c s24 zp">73</div><div class="c s25 zp tiny">353</div><div class="c s26 zp tiny">842</div><div class="c s27 zp tiny">2223</div><div class="c cw k">3</div><div class="c t0 zt">1</div><div class="c t1 zt">28</div><div class="c t2 zt">3</div><div class="c t3 ho">3</div><div class="c t4 zt">70</div><div class="c t5 zt">6</div><div class="c t6 zt">2</div><div class="c t7 zt">15</div><div class="c t8 zt">12</div><div class="c t9 zt">20</div><div class="c cm k">7</div><div class="c o0"><span class="sq sb"><i class="z">奇</i></span></div><div class="c o1 zg">1</div><div class="c b0 zg">1</div><div class="c b1"><span class="sq so"><i class="z">小</i></span></div><div class="c r0 zg">3</div><div class="c r1"><span class="sq sb d">1</span></div><div class="c r2 zg">1</div></div>
<div class="row" style="top:1010.9px"><div class="c cp">2026069</div><div class="c ct n">736</div><div class="c ca n">908</div><div class="c cs k">17</div><div class="c s0 zp tiny">349</div><div class="c s1 zp tiny">198</div><div class="c s2 zp">20</div><div class="c s3 zp">40</div><div class="c s4 zp">80</div><div class="c s5 zp">18</div><div class="c s6 zp">32</div><div class="c s7 zp">35</div><div class="c s8 zp">14</div><div class="c s9 zg">21</div><div class="c s10 zg">5</div><div class="c s11 zg">29</div><div class="c s12 zg">4</div><div class="c s13 zg">1</div><div class="c s14 zg">71</div><div class="c s15 zg">7</div><div class="c s16 zg">3</div><div class="c s17 hr">17</div><div class="c s18 zg">13</div><div class="c s19 zp">46</div><div class="c s20 zp">2</div><div class="c s21 zp">47</div><div class="c s22 zp">25</div><div class="c s23 zp">19</div><div class="c s24 zp">74</div><div class="c s25 zp tiny">354</div><div class="c s26 zp tiny">843</div><div class="c s27 zp tiny">2224</div><div class="c cw k">7</div><div class="c t0 zt">2</div><div class="c t1 zt">29</div><div class="c t2 zt">4</div><div class="c t3 zt">1</div><div class="c t4 zt">71</div><div class="c t5 zt">7</div><div class="c t6 zt">3</div><div class="c t7 ho">7</div><div class="c t8 zt">13</div><div class="c t9 zt">21</div><div class="c cm k">4</div><div class="c o0"><span class="sq sb"><i class="z">奇</i></span></div><div class="c o1 zg">2</div><div class="c b0"><span class="sq so"><i class="z">大</i></span></div><div class="c b1 zg">1</div><div class="c r0 zg">4</div><div class="c r1 zg">1</div><div class="c r2"><span class="sq sb d">2</span></div></div>
<div class="row" style="top:1054.3px"><div class="c cp">2026070</div><div class="c ct n">658</div><div class="c ca n"><span class="bd ba">484</span></div><div class="c cs k">16</div><div class="c s0 zp tiny">350</div><div class="c s1 zp tiny">199</div><div class="c s2 zp">21</div><div class="c s3 zp">41</div><div class="c s4 zp">81</div><div class="c s5 zp">19</div><div class="c s6 zp">33</div><div class="c s7 zp">36</div><div class="c s8 zp">15</div><div class="c s9 zg">22</div><div class="c s10 zg">6</div><div class="c s11 zg">30</div><div class="c s12 zg">5</div><div class="c s13 zg">2</div><div class="c s14 zg">72</div><div class="c s15 zg">8</div><div class="c s16 hr">16</div><div class="c s17 zg">1</div><div class="c s18 zg">14</div><div class="c s19 zp">47</div><div class="c s20 zp">3</div><div class="c s21 zp">48</div><div class="c s22 zp">26</div><div class="c s23 zp">20</div><div class="c s24 zp">75</div><div class="c s25 zp tiny">355</div><div class="c s26 zp tiny">844</div><div class="c s27 zp tiny">2225</div><div class="c cw k">6</div><div class="c t0 zt">3</div><div class="c t1 zt">30</div><div class="c t2 zt">5</div><div class="c t3 zt">2</div><div class="c t4 zt">72</div><div class="c t5 zt">8</div><div class="c t6 ho">6</div><div class="c t7 zt">1</div><div class="c t8 zt">14</div><div class="c t9 zt">22</div><div class="c cm k">1</div><div class="c o0 zg">1</div><div class="c o1"><span class="sq sb"><i class="z">偶</i></span></div><div class="c b0"><span class="sq so"><i class="z">大</i></span></div><div class="c b1 zg">2</div><div class="c r0 zg">5</div><div class="c r1"><span class="sq sb d">1</span></div><div class="c r2 zg">1</div></div>
<div class="vl" style="left:106px;top:147.2px;height:951.4px"></div>
<div class="vl" style="left:175px;top:147.2px;height:951.4px"></div>
<div class="vl" style="left:243px;top:147.2px;height:951.4px"></div>
<div class="vl" style="left:295px;top:147.2px;height:951.4px"></div>
<div class="vl" style="left:1346px;top:147.2px;height:951.4px"></div>
<div class="vl" style="left:1397px;top:147.2px;height:951.4px"></div>
<div class="vl" style="left:1773px;top:147.2px;height:951.4px"></div>
<div class="vl" style="left:633px;top:185.5px;height:913.1px"></div>
<div class="vl" style="left:1009px;top:185.5px;height:913.1px"></div>
<div class="vl" style="left:1823px;top:185.5px;height:913.1px"></div>
<div class="vl" style="left:1907px;top:185.5px;height:913.1px"></div>
<div class="vl" style="left:1993px;top:185.5px;height:913.1px"></div>
<div class="gl" style="top:438.2px"></div>
<div class="gl" style="top:657.8px"></div>
<div class="gl" style="top:877.4px"></div>
<svg id="lines" width="2121" height="1101" viewBox="0 0 2121 1101">
<polyline points="501.9,242.8 914.0,286.2 951.2,329.6 691.0,373.0 613.6,416.4 988.5,462.4 765.3,505.8 765.3,549.2 1066.1,592.6 914.0,636.0 876.8,682.0 876.8,725.4 802.5,768.8 691.0,812.2 765.3,855.6 914.0,901.6 1066.1,945.0 802.5,988.4 951.2,1031.8 914.0,1075.2" fill="none" stroke="#d25a6b" stroke-width="2.5" stroke-linejoin="round"/>
<polyline points="1603.4,242.8 1640.6,286.2 1677.8,329.6 1417.4,373.0 1715.0,416.4 1715.0,462.4 1491.8,505.8 1491.8,549.2 1417.4,592.6 1640.6,636.0 1603.4,682.0 1603.4,725.4 1529.0,768.8 1417.4,812.2 1491.8,855.6 1640.6,901.6 1417.4,945.0 1529.0,988.4 1677.8,1031.8 1640.6,1075.2" fill="none" stroke="#eac48a" stroke-width="2.5" stroke-linejoin="round"/>
</svg>
<div id="bl"></div><div id="br"></div><div id="bb"></div>
</div>
</div>
</body>
</html>
